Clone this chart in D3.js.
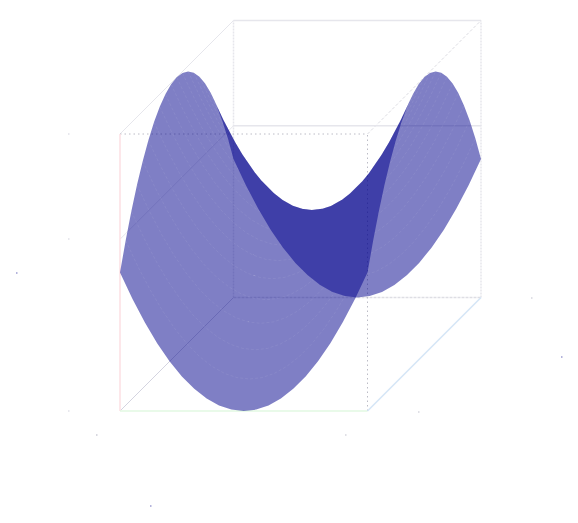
<!DOCTYPE html>
<html>
<head>
<meta charset="utf-8">
<script src="https://cdn.jsdelivr.net/npm/d3@7"></script>
<style>
html, body { margin: 0; padding: 0; background: #fff; }
svg { display: block; }
</style>
</head>
<body>
<div id="chart"></div>
<script>
//Grid coordinates of the surface
const xValues = [-1, -0.9, -0.8, -0.7, -0.6, -0.5, -0.4, -0.3, -0.2, -0.1, 0, 0.1, 0.2, 0.3, 0.4, 0.5, 0.6, 0.7, 0.8, 0.9, 1];
const yValues = [-1, -0.9, -0.8, -0.7, -0.6, -0.5, -0.4, -0.3, -0.2, -0.1, 0, 0.1, 0.2, 0.3, 0.4, 0.5, 0.6, 0.7, 0.8, 0.9, 1];

//Surface heights, one row per y value
const zRows = [
  [0.5, 0.405, 0.32, 0.245, 0.18, 0.125, 0.08, 0.045, 0.02, 0.005, 0, 0.005, 0.02, 0.045, 0.08, 0.125, 0.18, 0.245, 0.32, 0.405, 0.5],
  [0.595, 0.5, 0.415, 0.34, 0.275, 0.22, 0.175, 0.14, 0.115, 0.1, 0.095, 0.1, 0.115, 0.14, 0.175, 0.22, 0.275, 0.34, 0.415, 0.5, 0.595],
  [0.68, 0.585, 0.5, 0.425, 0.36, 0.305, 0.26, 0.225, 0.2, 0.185, 0.18, 0.185, 0.2, 0.225, 0.26, 0.305, 0.36, 0.425, 0.5, 0.585, 0.68],
  [0.755, 0.66, 0.575, 0.5, 0.435, 0.38, 0.335, 0.3, 0.275, 0.26, 0.255, 0.26, 0.275, 0.3, 0.335, 0.38, 0.435, 0.5, 0.575, 0.66, 0.755],
  [0.82, 0.725, 0.64, 0.565, 0.5, 0.445, 0.4, 0.365, 0.34, 0.325, 0.32, 0.325, 0.34, 0.365, 0.4, 0.445, 0.5, 0.565, 0.64, 0.725, 0.82],
  [0.875, 0.78, 0.695, 0.62, 0.555, 0.5, 0.455, 0.42, 0.395, 0.38, 0.375, 0.38, 0.395, 0.42, 0.455, 0.5, 0.555, 0.62, 0.695, 0.78, 0.875],
  [0.92, 0.825, 0.74, 0.665, 0.6, 0.545, 0.5, 0.465, 0.44, 0.425, 0.42, 0.425, 0.44, 0.465, 0.5, 0.545, 0.6, 0.665, 0.74, 0.825, 0.92],
  [0.955, 0.86, 0.775, 0.7, 0.635, 0.58, 0.535, 0.5, 0.475, 0.46, 0.455, 0.46, 0.475, 0.5, 0.535, 0.58, 0.635, 0.7, 0.775, 0.86, 0.955],
  [0.98, 0.885, 0.8, 0.725, 0.66, 0.605, 0.56, 0.525, 0.5, 0.485, 0.48, 0.485, 0.5, 0.525, 0.56, 0.605, 0.66, 0.725, 0.8, 0.885, 0.98],
  [0.995, 0.9, 0.815, 0.74, 0.675, 0.62, 0.575, 0.54, 0.515, 0.5, 0.495, 0.5, 0.515, 0.54, 0.575, 0.62, 0.675, 0.74, 0.815, 0.9, 0.995],
  [1, 0.905, 0.82, 0.745, 0.68, 0.625, 0.58, 0.545, 0.52, 0.505, 0.5, 0.505, 0.52, 0.545, 0.58, 0.625, 0.68, 0.745, 0.82, 0.905, 1],
  [0.995, 0.9, 0.815, 0.74, 0.675, 0.62, 0.575, 0.54, 0.515, 0.5, 0.495, 0.5, 0.515, 0.54, 0.575, 0.62, 0.675, 0.74, 0.815, 0.9, 0.995],
  [0.98, 0.885, 0.8, 0.725, 0.66, 0.605, 0.56, 0.525, 0.5, 0.485, 0.48, 0.485, 0.5, 0.525, 0.56, 0.605, 0.66, 0.725, 0.8, 0.885, 0.98],
  [0.955, 0.86, 0.775, 0.7, 0.635, 0.58, 0.535, 0.5, 0.475, 0.46, 0.455, 0.46, 0.475, 0.5, 0.535, 0.58, 0.635, 0.7, 0.775, 0.86, 0.955],
  [0.92, 0.825, 0.74, 0.665, 0.6, 0.545, 0.5, 0.465, 0.44, 0.425, 0.42, 0.425, 0.44, 0.465, 0.5, 0.545, 0.6, 0.665, 0.74, 0.825, 0.92],
  [0.875, 0.78, 0.695, 0.62, 0.555, 0.5, 0.455, 0.42, 0.395, 0.38, 0.375, 0.38, 0.395, 0.42, 0.455, 0.5, 0.555, 0.62, 0.695, 0.78, 0.875],
  [0.82, 0.725, 0.64, 0.565, 0.5, 0.445, 0.4, 0.365, 0.34, 0.325, 0.32, 0.325, 0.34, 0.365, 0.4, 0.445, 0.5, 0.565, 0.64, 0.725, 0.82],
  [0.755, 0.66, 0.575, 0.5, 0.435, 0.38, 0.335, 0.3, 0.275, 0.26, 0.255, 0.26, 0.275, 0.3, 0.335, 0.38, 0.435, 0.5, 0.575, 0.66, 0.755],
  [0.68, 0.585, 0.5, 0.425, 0.36, 0.305, 0.26, 0.225, 0.2, 0.185, 0.18, 0.185, 0.2, 0.225, 0.26, 0.305, 0.36, 0.425, 0.5, 0.585, 0.68],
  [0.595, 0.5, 0.415, 0.34, 0.275, 0.22, 0.175, 0.14, 0.115, 0.1, 0.095, 0.1, 0.115, 0.14, 0.175, 0.22, 0.275, 0.34, 0.415, 0.5, 0.595],
  [0.5, 0.405, 0.32, 0.245, 0.18, 0.125, 0.08, 0.045, 0.02, 0.005, 0, 0.005, 0.02, 0.045, 0.08, 0.125, 0.18, 0.245, 0.32, 0.405, 0.5]
];

const width = 578;
const height = 523;

//Oblique view of the box: x runs right, y runs up and right, z runs up
const xScale = d3.scaleLinear().domain([-1, 1]).range([120, 367.5]);
const yShiftX = d3.scaleLinear().domain([-1, 1]).range([0, 113.5]);
const yShiftY = d3.scaleLinear().domain([-1, 1]).range([0, -113.5]);
const zScale = d3.scaleLinear().domain([0, 1]).range([411, 134]);

const project = (x, y, z) => [xScale(x) + yShiftX(y), zScale(z) + yShiftY(y)];

const svg = d3.select("#chart")
    .append("svg")
    .attr("width", width)
    .attr("height", height);

//Box edges, [from, to, color, dash, stroke width]
const gridGrey = "#e6e6ec";
const boxEdges = [
    [[-1, 1, 0], [-1, 1, 1], gridGrey, "2,1", 1.5],
    [[1, 1, 0], [1, 1, 1], gridGrey, "2,1", 1.5],
    [[-1, 1, 1], [1, 1, 1], gridGrey, null, 1.5],
    [[-1, 1, 0], [1, 1, 0], "#dedee4", "3,1", 1.5],
    [[-1, -1, 1], [-1, 1, 1], gridGrey, null, 1],
    [[1, -1, 1], [1, 1, 1], "#dcdce2", "3,2", 1],
    [[-1, -1, 0], [-1, 1, 0], "#d4d4e0", null, 1],
    [[-1, 1, 0.62], [1, 1, 0.62], gridGrey, null, 1.5],
    [[-1, -1, 0.62], [-1, 1, 0.62], gridGrey, null, 1],
    [[-1, -1, 1], [1, -1, 1], "#bcbcc6", "1.5,3", 1],
    [[1, -1, 0], [1, -1, 1], "#bcbcc6", "1.5,3", 1],
    [[-1, -1, 0], [-1, -1, 1], "#fddfe3", null, 1.5],
    [[-1, -1, 0], [1, -1, 0], "#e2f8e2", null, 1.5],
    [[1, -1, 0], [1, 1, 0], "#d4e5f6", null, 1.5]
];

svg.append("g")
    .selectAll("line")
    .data(boxEdges)
    .enter()
    .append("line")
    .attr("x1", d => project(...d[0])[0])
    .attr("y1", d => project(...d[0])[1])
    .attr("x2", d => project(...d[1])[0])
    .attr("y2", d => project(...d[1])[1])
    .attr("stroke", d => d[2])
    .attr("stroke-width", d => d[4])
    .attr("stroke-dasharray", d => d[3]);

//Surface cells split by which way they face, so the fold shows as a darker double layer
const frontCells = [];
const backCells = [];
for (let j = 0; j < yValues.length - 1; j++) {
    for (let i = 0; i < xValues.length - 1; i++) {
        const cell = [
            project(xValues[i], yValues[j], zRows[j][i]),
            project(xValues[i + 1], yValues[j], zRows[j][i + 1]),
            project(xValues[i + 1], yValues[j + 1], zRows[j + 1][i + 1]),
            project(xValues[i], yValues[j + 1], zRows[j + 1][i])
        ];
        //all cells wound the same way on screen so one path fills without seams
        if (d3.polygonArea(cell) > 0) frontCells.push(cell);
        else backCells.push(cell.slice().reverse());
    }
}

const cellPath = cells => cells.map(c => "M" + c.join("L") + "Z").join("");

svg.append("g")
    .selectAll("path")
    .data([backCells, frontCells])
    .enter()
    .append("path")
    .attr("d", cellPath)
    .attr("fill", "#00008b")
    .attr("fill-opacity", 0.5);

//Mask that hides the seams inside the double layer, which is smooth in the original
const defs = svg.append("defs");
defs.append("clipPath")
    .attr("id", "frontClip")
    .append("path")
    .attr("d", cellPath(frontCells));

const seamMask = defs.append("mask")
    .attr("id", "seamMask")
    .attr("maskUnits", "userSpaceOnUse")
    .attr("x", 0)
    .attr("y", 0)
    .attr("width", width)
    .attr("height", height);

seamMask.append("rect")
    .attr("width", width)
    .attr("height", height)
    .attr("fill", "#fff");

seamMask.append("path")
    .attr("d", cellPath(backCells))
    .attr("fill", "#000")
    .attr("clip-path", "url(#frontClip)");

//Faint mesh seams along the rows, the original shows them as broken pale curves
const rowLine = d3.line();
svg.append("g")
    .attr("mask", "url(#seamMask)")
    .selectAll("path")
    .data(yValues.slice(1, -1))
    .enter()
    .append("path")
    .attr("d", (y, j) => rowLine(xValues.map((x, i) => project(x, y, zRows[j + 1][i]))))
    .attr("fill", "none")
    .attr("stroke", "#fff")
    .attr("stroke-opacity", 0.07)
    .attr("stroke-width", 1)
    .attr("stroke-dasharray", "3,2");

//Tiny leftover marks around the box where tick labels would sit
const specks = [
    [68, 133, "#e8e8ee"], [68, 238, "#e8e8ee"], [68, 410, "#e8e8ee"], [16, 272, "#b4b4dc"],
    [96, 434, "#d8d8e0"], [150, 505, "#b4b4dc"], [345, 434, "#e0e0e6"], [418, 411, "#e0e0e6"],
    [531, 297, "#e0e0e6"], [561, 356, "#b4b4dc"]
];

svg.append("g")
    .selectAll("rect")
    .data(specks)
    .enter()
    .append("rect")
    .attr("x", d => d[0])
    .attr("y", d => d[1])
    .attr("width", 1.5)
    .attr("height", 2)
    .attr("fill", d => d[2]);
</script>
</body>
</html>
